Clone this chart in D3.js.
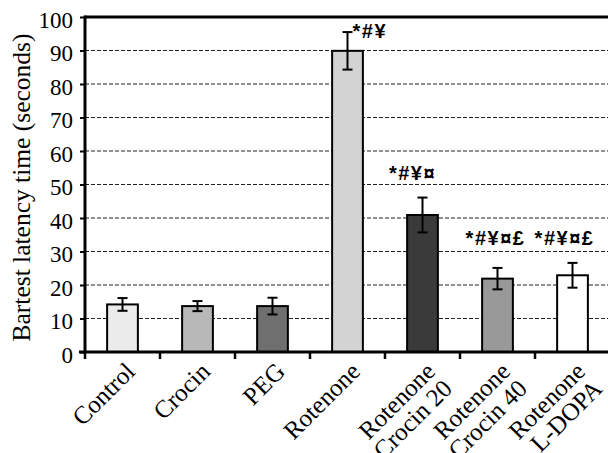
<!DOCTYPE html>
<html>
<head>
<meta charset="utf-8">
<script src="https://cdn.jsdelivr.net/npm/d3@7"></script>
<style>
  body { margin: 0; background: #fff; }
  svg { display: block; }
  .serif { font-family: "Liberation Serif", Tinos, "Times New Roman", Times, "DejaVu Serif", serif; }
</style>
</head>
<body>
<svg id="chart" width="608" height="453"></svg>
<script>
// data
var groups = [["Control"], ["Crocin"], ["PEG"], ["Rotenone"],
  ["Rotenone", "Crocin 20"], ["Rotenone", "Crocin 40"], ["Rotenone", "L-DOPA"]];
var means = [14.2, 13.7, 13.7, 89.9, 40.9, 21.9, 22.9];
var errors = [1.9, 1.5, 2.5, 5.6, 5.2, 3.2, 3.7];
var marks = ["", "", "", "*#\u00a5", "*#\u00a5\u00a4", "*#\u00a5\u00a4\u00a3", "*#\u00a5\u00a4\u00a3"];
var fills = ["#ececec", "#b8b8b8", "#6f6f6f", "#d3d3d3", "#3a3a3a", "#999999", "#ffffff"];
var yTicks = [0, 10, 20, 30, 40, 50, 60, 70, 80, 90, 100];

var svg = d3.select("#chart"),
  margin = { top: 17, right: -2, bottom: 101, left: 85 },
  W = +svg.attr("width"), H = +svg.attr("height"),
  x0 = margin.left, x1 = W - margin.right,
  y0 = H - margin.bottom, y1 = margin.top;

var idx = d3.range(groups.length);
var x = d3.scaleBand().domain(idx).range([x0, x1]).padding(0);
var y = d3.scaleLinear().domain([0, 100]).range([y0, y1]);
var barW = x.bandwidth() * 0.41;

// dashed grid
svg.append("g")
  .selectAll("line")
  .data(yTicks.filter(d => d > 0 && d < 100))
  .enter().append("line")
  .attr("x1", x0).attr("x2", W)
  .attr("y1", d => y(d)).attr("y2", d => y(d))
  .attr("stroke", "#222").attr("stroke-width", 1)
  .attr("stroke-dasharray", "4,2");

// top frame line
svg.append("line")
  .attr("x1", x0).attr("x2", W)
  .attr("y1", y(100)).attr("y2", y(100))
  .attr("stroke", "#000").attr("stroke-width", 3);

// bars
svg.append("g")
  .selectAll("rect")
  .data(idx)
  .enter().append("rect")
  .attr("x", i => x(i) + (x.bandwidth() - barW) / 2)
  .attr("y", i => y(means[i]))
  .attr("width", barW)
  .attr("height", i => y0 - y(means[i]))
  .attr("fill", i => fills[i])
  .attr("stroke", "#000").attr("stroke-width", 2);

// error bars
var eb = svg.append("g").attr("stroke", "#000").attr("stroke-width", 2);
idx.forEach(function (i) {
  var cx = x(i) + x.bandwidth() / 2,
    hi = y(means[i] + errors[i]), lo = y(means[i] - errors[i]);
  eb.append("line").attr("x1", cx).attr("x2", cx).attr("y1", hi).attr("y2", lo);
  eb.append("line").attr("x1", cx - 5).attr("x2", cx + 5).attr("y1", hi).attr("y2", hi);
  eb.append("line").attr("x1", cx - 5).attr("x2", cx + 5).attr("y1", lo).attr("y2", lo);
});

// significance marks
svg.append("g")
  .selectAll("text")
  .data(idx.filter(i => marks[i]))
  .enter().append("text")
  .attr("x", function (i) {
    var cx = x(i) + x.bandwidth() / 2;
    if (i === 3) return cx + 5;
    return cx + [0, 0, 0, 0, -10, -2, -8][i];
  })
  .attr("y", function (i) {
    if (i === 3) return y(means[i] + errors[i]) + 6;
    if (i >= 5) return y(d3.max([5, 6], j => means[j] + errors[j])) - 18;
    return y(means[i] + errors[i]) - 18;
  })
  .attr("text-anchor", i => i === 3 ? "start" : "middle")
  .attr("font-family", "'Liberation Sans', Arial, sans-serif")
  .attr("font-weight", "bold")
  .attr("font-size", 20)
  .attr("letter-spacing", 1.5)
  .text(i => marks[i]);

// y axis
var yAxis = svg.append("g")
  .attr("transform", "translate(" + x0 + ",0)")
  .call(d3.axisLeft(y).tickValues(yTicks).tickSize(5).tickPadding(7));
yAxis.attr("font-family", null);
yAxis.select(".domain").attr("stroke-width", 3).attr("d", "M0," + (y1 - 1.5) + "V" + (y0 + 1.5));
yAxis.selectAll(".tick line").attr("stroke-width", 2);
yAxis.selectAll(".tick text")
  .attr("class", "serif").attr("font-size", 23).attr("fill", "#000")
  .attr("dy", "0.45em");

// x axis baseline and boundary ticks
svg.append("line")
  .attr("x1", x0 - 6).attr("x2", W)
  .attr("y1", y0).attr("y2", y0)
  .attr("stroke", "#000").attr("stroke-width", 3);
svg.append("g")
  .selectAll("line")
  .data(idx)
  .enter().append("line")
  .attr("x1", i => x(i)).attr("x2", i => x(i))
  .attr("y1", y0).attr("y2", y0 + 7)
  .attr("stroke", "#000").attr("stroke-width", 2.5);

// category labels
var lab = svg.append("g")
  .selectAll("text")
  .data(idx)
  .enter().append("text")
  .attr("class", "serif")
  .attr("transform", i => "translate(" + (x(i) + x.bandwidth() / 2 + 14) + "," + (y0 + 21) + ") rotate(-45)")
  .attr("text-anchor", "end")
  .attr("font-size", 25)
  .attr("fill", "#000");
lab.each(function (i) {
  var t = d3.select(this);
  groups[i].forEach(function (s, k) {
    t.append("tspan").attr("x", 0).attr("dy", k === 0 ? 0 : "0.97em").text(s);
  });
});

// y title
svg.append("text")
  .attr("class", "serif")
  .attr("transform", "translate(30," + ((y0 + y1) / 2 + 3) + ") rotate(-90)")
  .attr("text-anchor", "middle")
  .attr("font-size", 25.5)
  .attr("fill", "#000")
  .text("Bartest latency time (seconds)");
</script>
</body>
</html>
